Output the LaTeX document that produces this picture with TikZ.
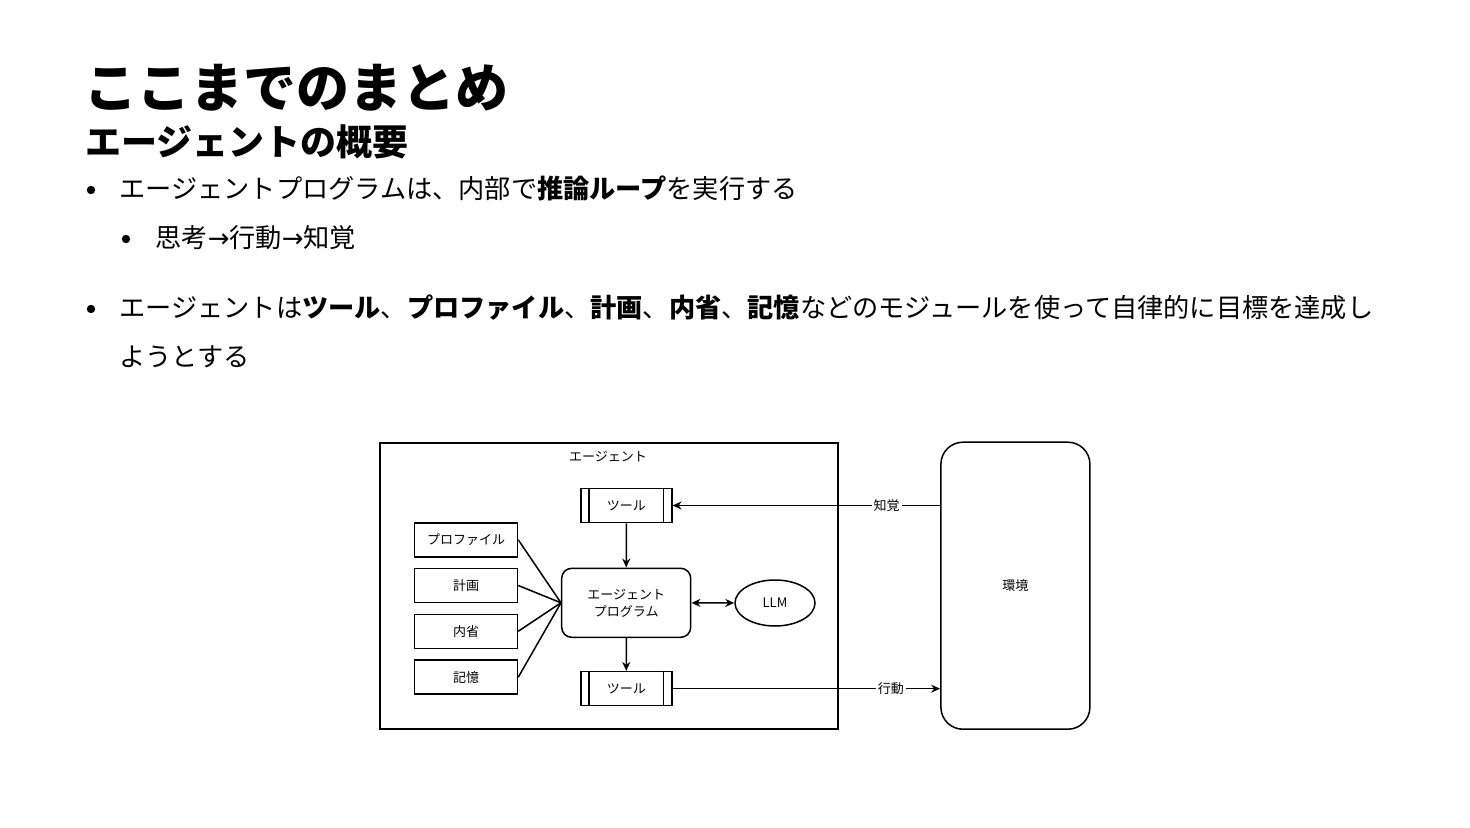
\documentclass[tikz,border=0pt]{standalone}
\usepackage{fontspec}
\setmainfont{Noto Sans CJK JP}
\newfontfamily\arrowfont{DejaVu Sans}
\usetikzlibrary{arrows.meta,shapes.geometric,calc}
\newcommand{\rarr}{{\arrowfont\fontsize{13pt}{16pt}\selectfont →}}
\begin{document}
\begin{tikzpicture}[x=0.5pt,y=-0.5pt,
  lw/.style={line width=0.75pt},
  dfont/.style={font=\fontsize{6.5pt}{8.5pt}\selectfont},
  box/.style={draw,lw,inner sep=0pt,dfont,minimum width=51.5pt,minimum height=17pt},
  toolbox/.style={draw,lw,inner sep=0pt,dfont,minimum width=45.5pt,minimum height=17pt},
  arr/.style={lw,-{Stealth[length=4.5pt,width=4pt]}},
  darr/.style={lw,{Stealth[length=4.5pt,width=4pt]}-{Stealth[length=4.5pt,width=4pt]}},
  edgelabel/.style={fill=white,inner sep=1pt,dfont},
  bodytext/.style={anchor=base west,inner sep=0pt,font=\fontsize{13.1pt}{16pt}\selectfont},
  bullet/.style={circle,fill=black,inner sep=0pt,minimum size=4.2pt}]
\useasboundingbox (0,0) rectangle (1470,828);

% Title area
\node[anchor=base west,inner sep=0pt,font=\fontsize{26.5pt}{30pt}\selectfont\bfseries] (title) at (84,108) {ここまでのまとめ};
\node[anchor=base west,inner sep=0pt,font=\fontsize{18pt}{22pt}\selectfont\bfseries] (subtitle) at (85,156) {エージェントの概要};

% Bullets
\node[bullet] (b1) at (91,190) {};
\node[bodytext] (t1) at (119,199) {エージェントプログラムは、内部で\textbf{推論ループ}を実行する};
\node[bullet] (b2) at (126,239) {};
\node[bodytext] (t2) at (155,248) {思考\rarr 行動\rarr 知覚};
\node[bullet] (b3) at (91,309) {};
\node[bodytext] (t3) at (119,318) {エージェントは\textbf{ツール}、\textbf{プロファイル}、\textbf{計画}、\textbf{内省}、\textbf{記憶}などのモジュールを使って自律的に目標を達成し};
\node[bodytext] (t4) at (119,366) {ようとする};

% Diagram
\node[draw,lw,minimum width=229pt,minimum height=143pt,inner sep=0pt] (agent) at (609,586) {};
\node[dfont] (agentlabel) at (608,457) {エージェント};

\node[toolbox] (tool1) at (626.3,505.5) {ツール};
\node[toolbox] (tool2) at (626.3,688.7) {ツール};
\foreach \t in {tool1,tool2}{
  \draw[lw] ($(\t.north west)+(9,0)$) -- ($(\t.south west)+(9,0)$);
  \draw[lw] ($(\t.north east)+(-9,0)$) -- ($(\t.south east)+(-9,0)$);
}

\node[draw,lw,rounded corners=5pt,minimum width=64.5pt,minimum height=34.5pt,inner sep=0pt,dfont,align=center] (prog) at (626.2,602.8) {エージェント\\プログラム};
\node[draw,lw,ellipse,minimum width=40pt,minimum height=23pt,inner sep=0pt,dfont] (llm) at (775,603) {LLM};

\node[box] (profile) at (466,539.8) {プロファイル};
\node[box] (plan) at (466,585.5) {計画};
\node[box] (intro) at (466,631.3) {内省};
\node[box] (memory) at (466,677.2) {記憶};

\node[draw,lw,rounded corners=11pt,minimum width=74.5pt,minimum height=143.5pt,inner sep=0pt,dfont] (env) at (1015.4,585.7) {環境};

\foreach \m in {profile,plan,intro,memory}{
  \draw[lw] (\m.east) -- (prog.west);
}
\draw[arr] (tool1) -- (prog);
\draw[arr] (prog) -- (tool2);
\draw[darr] (prog) -- (llm);

\draw[arr] (env.west |- tool1.east) -- node[pos=0.2,edgelabel] {知覚} (tool1.east);
\draw[arr] (tool2.east) -- node[pos=0.816,edgelabel] {行動} (env.west |- tool2.east);
\end{tikzpicture}
\end{document}
